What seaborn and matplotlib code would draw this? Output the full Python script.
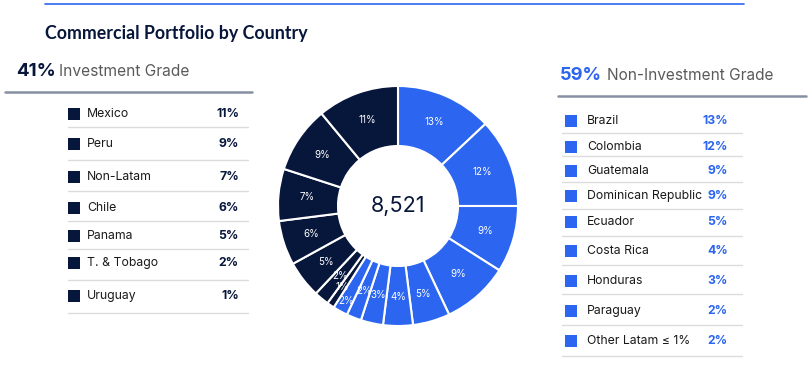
import matplotlib
matplotlib.use("Agg")
import matplotlib.pyplot as plt
import seaborn as sns
import pandas as pd
import numpy as np

# ---- data ----
ig_countries = ["Mexico", "Peru", "Non-Latam", "Chile", "Panama", "T. & Tobago", "Uruguay"]
ig_values = [11, 9, 7, 6, 5, 2, 1]
nig_countries = ["Brazil", "Colombia", "Guatemala", "Dominican Republic", "Ecuador",
                 "Costa Rica", "Honduras", "Paraguay", "Other Latam ≤ 1%"]
nig_values = [13, 12, 9, 9, 5, 4, 3, 2, 2]
ig_total_label = "41%"
nig_total_label = "59%"
center_total = "8,521"
title = "Commercial Portfolio by Country"

NAVY = "#07163b"
BLUE = "#2b65f0"
GRAY_TXT = "#5a5a5a"

sns.set_theme(style="white")
plt.rcParams["font.family"] = ["Inter", "DejaVu Sans"]

fig = plt.figure(figsize=(8.12, 3.8), dpi=100)
ax = fig.add_axes([0, 0, 1, 1])
ax.set_xlim(0, 812)
ax.set_ylim(380, 0)
ax.axis("off")

# top rule
ax.plot([45, 744], [4, 4], color=BLUE, lw=1.2)
ax.text(45, 33, title, fontsize=12.8, fontweight="bold", color=NAVY,
        family=["Lato", "DejaVu Sans"], va="center", ha="left")

# ---- donut ----
pie_vals = nig_values + ig_values[::-1]
pie_cols = [BLUE] * len(nig_values) + [NAVY] * len(ig_values)
# label radius per slice (small slices staggered as in the reference)
label_r = [0.76] * len(nig_values) + [0.76] * len(ig_values)
label_r[len(nig_values) - 1] = 0.9   # Other Latam
label_r[len(nig_values)] = 0.82      # Uruguay
cx, cy, R = 398, 206, 120
pax = fig.add_axes([(cx - R) / 812, (380 - cy - R) / 380, 2 * R / 812, 2 * R / 380])
wedges, _ = pax.pie(pie_vals, colors=pie_cols, startangle=90, counterclock=False,
                    radius=1.0, wedgeprops=dict(width=0.5, edgecolor="white", linewidth=1.5))
tot = sum(pie_vals)
ang = 90.0
for v, r in zip(pie_vals, label_r):
    mid = ang - v / tot * 360 / 2
    ang -= v / tot * 360
    pax.text(r * np.cos(np.radians(mid)), r * np.sin(np.radians(mid)), f"{v}%",
             ha="center", va="center", color="white", fontsize=7)
pax.text(0, 0, center_total, ha="center", va="center", fontsize=15.5, color=NAVY)
pax.set_xlim(-1, 1)
pax.set_ylim(-1, 1)
pax.set_aspect("equal")
pax.axis("off")

# ---- left block ----
ax.text(16, 72, ig_total_label, fontsize=13.5, fontweight="bold", color=NAVY, va="center")
ax.text(59, 72, "Investment Grade", fontsize=11.2, color=GRAY_TXT, va="center")
ax.plot([5, 252], [92, 92], color="#8590a3", lw=1.8)

left_rows = [114, 144, 177, 208, 236, 263, 296]
left_seps = [127, 160, 191, 221, 249, 280, 313]
df_l = pd.DataFrame({"x": [74.5] * len(ig_countries), "y": left_rows})
sns.scatterplot(data=df_l, x="x", y="y", marker="s", s=78, color=NAVY,
                linewidth=0, ax=ax, legend=False)
for name, val, y in zip(ig_countries, ig_values, left_rows):
    ax.text(87, y, name, fontsize=8.8, color="#1a1a1a", va="center")
    ax.text(239, y, f"{val}%", fontsize=8.8, fontweight="bold", color=NAVY,
            va="center", ha="right")
for y in left_seps:
    ax.plot([68, 248], [y, y], color="#dcdcdc", lw=1.0)

# ---- right block ----
ax.text(560, 76, nig_total_label, fontsize=13.2, fontweight="bold", color=BLUE, va="center")
ax.text(607, 76, "Non-Investment Grade", fontsize=11.1, color=GRAY_TXT, va="center")
ax.plot([558, 806], [96, 96], color="#8590a3", lw=1.8)

right_rows = [121, 147, 171, 196, 222, 251, 281, 311, 341]
right_seps = [133, 156, 182, 209, 236, 265, 294, 325, 356]
df_r = pd.DataFrame({"x": [571.5] * len(nig_countries), "y": right_rows})
sns.scatterplot(data=df_r, x="x", y="y", marker="s", s=78, color=BLUE,
                linewidth=0, ax=ax, legend=False)
for name, val, y in zip(nig_countries, nig_values, right_rows):
    ax.text(587, y, name, fontsize=8.8, color="#1a1a1a", va="center")
    ax.text(728, y, f"{val}%", fontsize=8.8, fontweight="bold", color=BLUE,
            va="center", ha="right")
for y in right_seps:
    ax.plot([562, 742], [y, y], color="#dcdcdc", lw=1.0)

fig.savefig("out.png", dpi=100, facecolor="white")
